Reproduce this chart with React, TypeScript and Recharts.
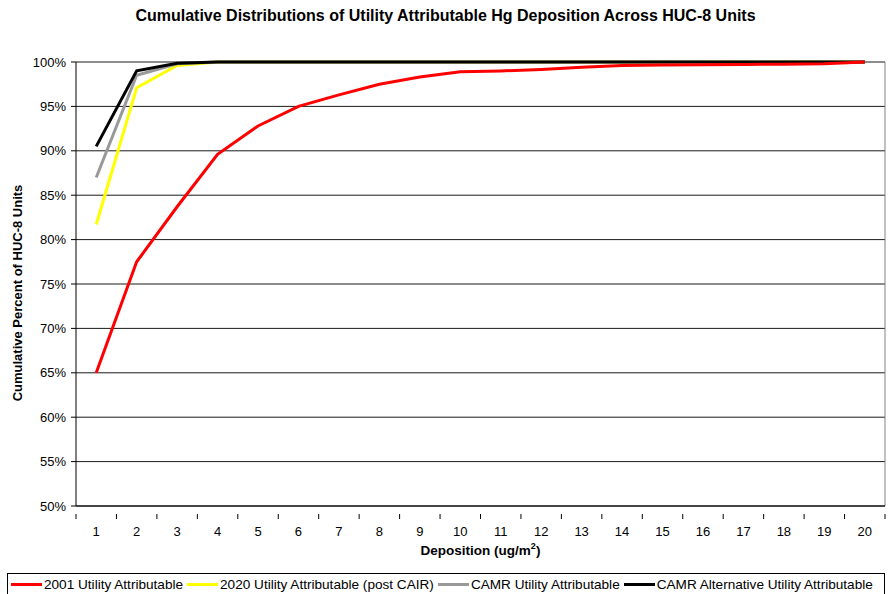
import React from 'react';
import { LineChart, Line, XAxis, YAxis, CartesianGrid, ReferenceLine } from 'recharts';

const depositions = [1, 2, 3, 4, 5, 6, 7, 8, 9, 10, 11, 12, 13, 14, 15, 16, 17, 18, 19, 20];
const util2001 = [65.0, 77.5, 83.7, 89.6, 92.8, 95.0, 96.3, 97.5, 98.3, 98.9, 99.0, 99.15, 99.4, 99.6, 99.65, 99.7, 99.72, 99.75, 99.8, 100];
const util2020 = [81.7, 97.1, 99.6, 100, 100, 100, 100, 100, 100, 100, 100, 100, 100, 100, 100, 100, 100, 100, 100, 100];
const camr = [87.0, 98.5, 99.8, 100, 100, 100, 100, 100, 100, 100, 100, 100, 100, 100, 100, 100, 100, 100, 100, 100];
const camrAlt = [90.5, 99.0, 99.85, 100, 100, 100, 100, 100, 100, 100, 100, 100, 100, 100, 100, 100, 100, 100, 100, 100];
const yTicks = [50, 55, 60, 65, 70, 75, 80, 85, 90, 95, 100];

const seriesNames = [
  '2001 Utility Attributable',
  '2020 Utility Attributable (post CAIR)',
  'CAMR Utility Attributable',
  'CAMR Alternative Utility Attributable',
];
const seriesColors = ['#FF0000', '#FFFF00', '#999999', '#000000'];
const seriesKeys = ['u2001', 'u2020', 'camr', 'camrAlt'];

const data = depositions.map((d, i) => ({
  x: d,
  u2001: util2001[i],
  u2020: util2020[i],
  camr: camr[i],
  camrAlt: camrAlt[i],
}));

const W = 891;
const H = 594;
const M = { top: 62, right: 6, left: 0, bottom: 0 };
const YW = 76;
const XH = 88;
const plotW = W - M.left - M.right - YW;
const band = plotW / depositions.length;

const FONT = '"Liberation Sans", Arial, sans-serif';

const XTick = (props: any) => {
  const { x, y, payload, index } = props;
  const half = band / 2;
  return (
    <g>
      <line x1={x - half} y1={y} x2={x - half} y2={y + 5} stroke="#000" />
      {index === depositions.length - 1 && (
        <line x1={x + half} y1={y} x2={x + half} y2={y + 5} stroke="#000" />
      )}
      <text x={x} y={y + 22} textAnchor="middle" fontSize={13} fill="#000" fontFamily={FONT}>
        {payload.value}
      </text>
    </g>
  );
};

export default function App() {
  const drawOrder = [1, 2, 3, 0];
  return (
    <div style={{ position: 'absolute', left: 0, top: 0, width: W, height: H, fontFamily: FONT, background: '#fff' }}>
      <LineChart width={W} height={H} data={data} margin={M}>
        <CartesianGrid vertical={false} horizontal={true} stroke="#000" strokeOpacity={0.9} />
        <XAxis
          dataKey="x"
          type="number"
          domain={[0.5, 20.5]}
          ticks={depositions}
          interval={0}
          height={XH}
          stroke="#000"
          tickLine={false}
          tick={<XTick />}
          allowDataOverflow
        />
        <YAxis
          type="number"
          domain={[50, 100]}
          ticks={yTicks}
          interval={0}
          width={YW}
          stroke="#000"
          tickSize={5}
          tickMargin={5}
          tickFormatter={(v: number) => `${v}%`}
          tick={{ fill: '#000', fontSize: 13, fontFamily: FONT }}
        />
        <ReferenceLine x={20.5} stroke="#808080" ifOverflow="extendDomain" />
        {drawOrder.map((i) => (
          <Line
            key={seriesKeys[i]}
            type="linear"
            dataKey={seriesKeys[i]}
            name={seriesNames[i]}
            stroke={seriesColors[i]}
            strokeWidth={3}
            dot={false}
            activeDot={false}
            isAnimationActive={false}
          />
        ))}
      </LineChart>
      <div style={{ position: 'absolute', left: 0, top: 6, width: W, textAlign: 'center', fontWeight: 'bold', fontSize: 16, lineHeight: '20px' }}>
        Cumulative Distributions of Utility Attributable Hg Deposition Across HUC-8 Units
      </div>
      <div
        style={{
          position: 'absolute',
          left: 18 - 150,
          top: 293 - 9,
          width: 300,
          textAlign: 'center',
          fontWeight: 'bold',
          fontSize: 13,
          lineHeight: '18px',
          transform: 'rotate(-90deg)',
        }}
      >
        Cumulative Percent of HUC-8 Units
      </div>
      <div style={{ position: 'absolute', left: M.left + YW, top: 542, width: plotW, textAlign: 'center', fontWeight: 'bold', fontSize: 13.5, lineHeight: '18px' }}>
        Deposition (ug/m<sup style={{ fontSize: 9, verticalAlign: 'top', lineHeight: '9px' }}>2</sup>)
      </div>
      <div
        style={{
          position: 'absolute',
          left: 7,
          top: 573,
          width: 878,
          height: 21,
          border: '1px solid #000',
          borderBottom: 'none',
          boxSizing: 'border-box',
          display: 'flex',
          alignItems: 'center',
          paddingLeft: 3,
          fontSize: 13.6,
          whiteSpace: 'nowrap',
        }}
      >
        {seriesNames.map((n, i) => (
          <div key={n} style={{ display: 'flex', alignItems: 'center', marginRight: 4 }}>
            <div style={{ width: 31, height: 3, background: seriesColors[i], marginRight: 2 }} />
            <span>{n}</span>
          </div>
        ))}
      </div>
    </div>
  );
}
